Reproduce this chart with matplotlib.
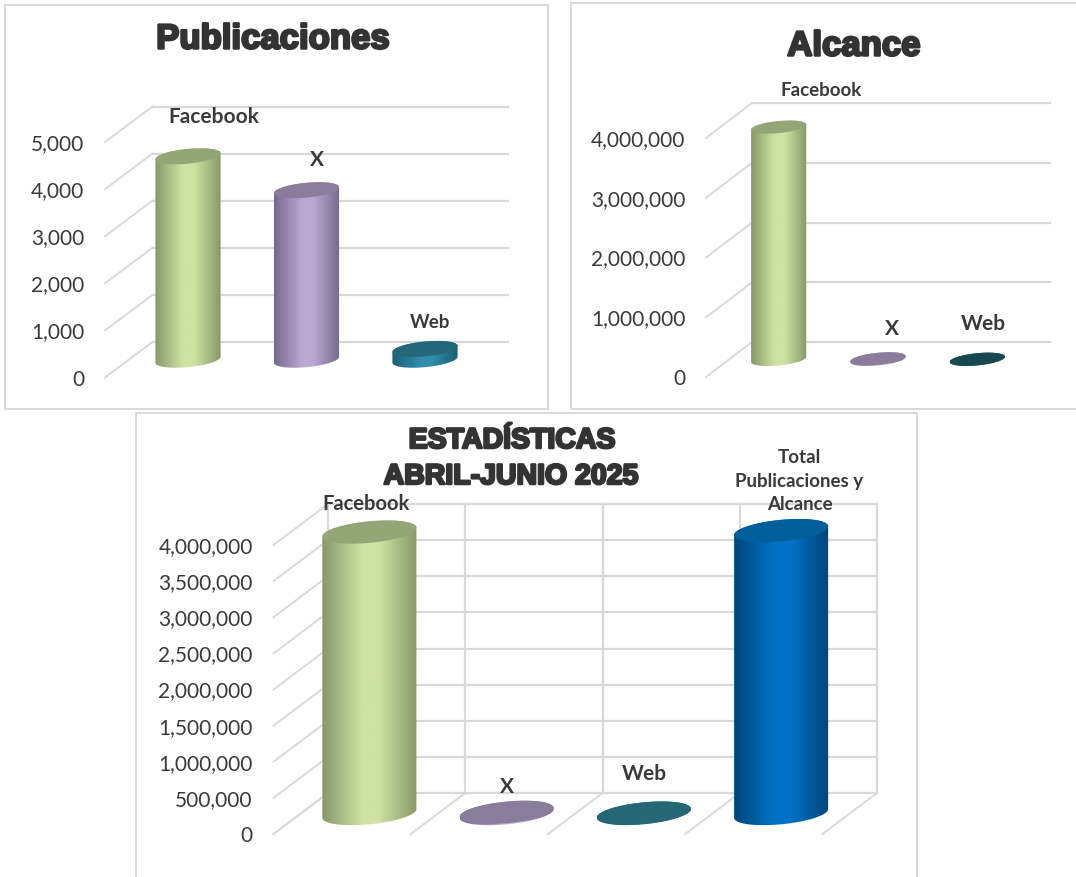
import numpy as np
import matplotlib
matplotlib.use("Agg")
import matplotlib.pyplot as plt
import matplotlib.patches as mpatches
import matplotlib.patheffects as pe
from matplotlib.colors import LinearSegmentedColormap

# --- data
pub_cats = ["Facebook", "X", "Web"]
pub_vals = [4320, 3600, 230]
pub_ticks = [0, 1000, 2000, 3000, 4000, 5000]

alc_cats = ["Facebook", "X", "Web"]
alc_vals = [3890000, 12000, 5000]
alc_ticks = [0, 1000000, 2000000, 3000000, 4000000]

tot_cats = ["Facebook", "X", "Web", "Total\nPublicaciones y\nAlcance"]
tot_vals = [3895000, 15600, 5200, 3915000]
tot_ticks = [0, 500000, 1000000, 1500000, 2000000, 2500000, 3000000, 3500000, 4000000]

W, H = 1076, 877
GRID = "#d9d9d9"
TXT = "#3a3a3a"

# (side colours, light colour, top colour)
GREEN = ("#879868", "#cfe2a3", "#95a676")
PURPLE = ("#75698d", "#b9a8d2", "#8a7d9b")
TEAL = ("#1c5f75", "#2f8dab", "#24677a")
TEAL_DARK = ("#123f49", "#1a5560", "#17474f")
TEAL_MID = ("#1f5f6e", "#2b7a8c", "#256775")
BLUE = ("#00467a", "#0072c6", "#005f9a")

plt.rcParams["font.family"] = ["Lato", "DejaVu Sans"]
fig = plt.figure(figsize=(W / 100, H / 100), dpi=100)


def fx(px):
    return px / W


def fy(py):
    return 1 - py / H


def label(x, y, s, size, spacing=1.0):
    fig.text(fx(x), fy(y), s, fontsize=size, fontweight="bold", color=TXT,
             ha="center", va="center", multialignment="center", linespacing=spacing)


def title(x, y, s, size, stroke):
    t = fig.text(fx(x), fy(y), s, fontsize=size, fontweight="bold", color="#333333",
                 family="Liberation Sans", ha="center", va="center")
    t.set_path_effects([pe.withStroke(linewidth=stroke, foreground="#333333")])


def border(x0, y0, x1, y1):
    fig.add_artist(mpatches.Rectangle((fx(x0), fy(y1)), fx(x1 - x0), (y1 - y0) / H, fill=False,
                                      edgecolor=GRID, linewidth=1.4, transform=fig.transFigure))


def cylinder(ax, cx, cy, value, half_w, b, s, cols, z):
    t = np.linspace(0, np.pi, 60)
    top = value + cy
    xs_top = cx + half_w * np.cos(t)
    ys_top = top + b * np.sin(t) + s * np.cos(t)
    xs_bot = cx + half_w * np.cos(t + np.pi)
    ys_bot = cy + b * np.sin(t + np.pi) + s * np.cos(t + np.pi)
    body = mpatches.Polygon(np.column_stack([np.r_[xs_top, xs_bot], np.r_[ys_top, ys_bot]]),
                            closed=True, transform=ax.transData, facecolor="none", edgecolor="none")
    ax.add_patch(body)
    body.set_clip_on(False)

    side, light, cap = cols
    cmap = LinearSegmentedColormap.from_list("cyl", [(0, side), (0.42, light), (0.6, light), (1, side)])
    im = ax.imshow(np.linspace(0, 1, 256)[None, :], cmap=cmap, aspect="auto", zorder=z,
                   extent=(cx - half_w, cx + half_w, cy - 2 * (b + abs(s)), top + 2 * (b + abs(s))))
    im.set_clip_box(fig.bbox)
    im.set_clip_path(body)

    t2 = np.linspace(0, 2 * np.pi, 120)
    ax.fill(cx + half_w * np.cos(t2), top + b * np.sin(t2) + s * np.cos(t2), color=cap,
            zorder=z + 0.1, clip_on=False, linewidth=0)


def panel(cats, vals, ticks, left, right, base, top, depth, bar_w, half_h, shear, cols, walls=False):
    ax = fig.add_axes([fx(left), fy(base), fx(right - left), (base - top) / H])
    n = len(cats)
    xlim = (-0.5, n - 0.5)
    ylim = (0, ticks[-1])
    px_x = (right - left) / n          # px per category
    px_y = (base - top) / ticks[-1]    # px per value unit
    dx = depth[0] / px_x
    dy = depth[1] / px_y

    for v in ticks:
        ax.plot([xlim[0], xlim[0] + dx], [v, v + dy], color=GRID, lw=1.4, clip_on=False, zorder=1)
        if v > 0 or walls:
            ax.plot([xlim[0] + dx, xlim[1] + dx], [v + dy, v + dy], color=GRID, lw=1.6, clip_on=False, zorder=1)
    if not walls:
        ax.plot([xlim[0] + dx, xlim[1] + dx], [dy, dy], color=GRID, lw=1.6, clip_on=False, zorder=1)
    if walls:
        for k in range(n + 1):
            x = xlim[0] + k
            ax.plot([x + dx, x + dx], [dy, ticks[-1] + dy], color=GRID, lw=1.6, clip_on=False, zorder=1)
            ax.plot([x, x + dx], [0, dy], color=GRID, lw=1.4, clip_on=False, zorder=1)

    for i, v in enumerate(vals):
        cylinder(ax, i + dx / 2, dy / 2, v, bar_w / 2, half_h / px_y, shear / px_y, cols[i], 3 + i)

    ax.set_xlim(xlim)
    ax.set_ylim(ylim)
    ax.set_xticks([])
    ax.set_yticks(ticks)
    ax.set_yticklabels([f"{v:,}" for v in ticks])
    ax.tick_params(axis="y", length=0, pad=15, labelsize=15, labelcolor=TXT)
    for lb in ax.get_yticklabels():
        lb.set_y(lb.get_position()[1])
    for sp in ax.spines.values():
        sp.set_visible(False)
    ax.patch.set_alpha(0)
    return ax


border(5, 5, 548, 409)
border(571, 3, 1090, 409)
border(136, 413, 917, 900)

panel(pub_cats, pub_vals, pub_ticks, 105, 460.5, 377.5, 142, (47.5, 35.5), 0.55, 7.4, 3.0,
      [GREEN, PURPLE, TEAL])
panel(alc_cats, alc_vals, alc_ticks, 706, 1004, 377, 138, (46, 35), 0.555, 6.0, 2.6,
      [GREEN, PURPLE, TEAL_DARK])
panel(tot_cats, tot_vals, tot_ticks, 273.5, 822.5, 834, 545, (54.5, 41), 0.685, 10.8, 4.4,
      [GREEN, PURPLE, TEAL_MID, BLUE], walls=True)

title(273, 39, "Publicaciones", 25, 1.8)
title(854, 46, "Alcance", 25, 1.8)
title(512, 441, "ESTADÍSTICAS", 20.5, 1.8)
title(511, 477, "ABRIL-JUNIO 2025", 20.5, 1.8)

label(214, 117, pub_cats[0], 15)
label(317, 160, pub_cats[1], 15)
label(430, 323, pub_cats[2], 13.5)

label(821, 90, alc_cats[0], 13.5)
label(892, 329, alc_cats[1], 15)
label(983, 324, alc_cats[2], 15)

label(366, 504, tot_cats[0], 14.5)
label(507, 787, tot_cats[1], 15)
label(644, 774, tot_cats[2], 15)
label(799.5, 481, tot_cats[3], 13.5, spacing=1.45)

fig.savefig("out.png", dpi=100, facecolor="white")
